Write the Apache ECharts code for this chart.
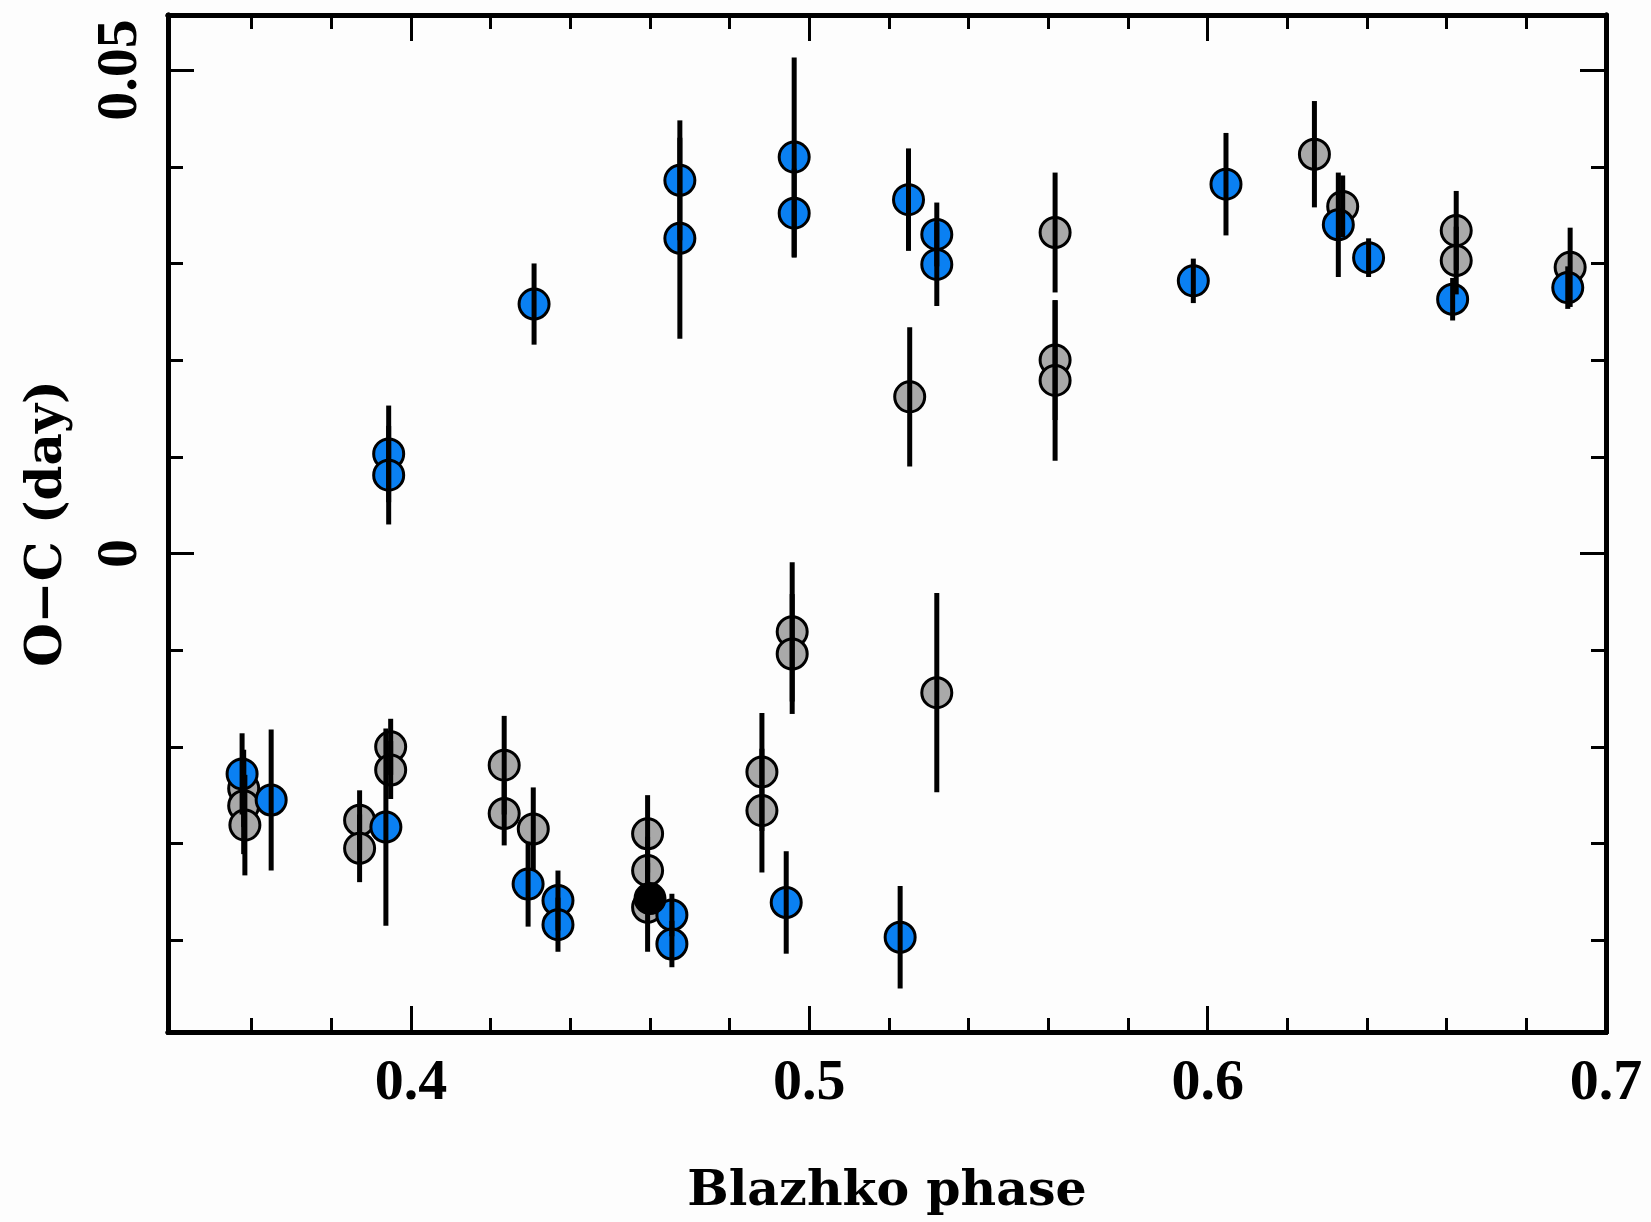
<!DOCTYPE html>
<html>
<head>
<meta charset="UTF-8">
<script src="https://cdn.jsdelivr.net/npm/echarts@6/dist/echarts.min.js"></script>
<style>
  html, body { margin: 0; padding: 0; background: #fdfdfd; }
  #main { width: 1651px; height: 1222px; }
</style>
</head>
<body>
<div id="main"></div>
<script>
// blue points: phase, O-C, error
var blueX = [0.3944, 0.3944, 0.4309, 0.4675, 0.4675, 0.4962, 0.4962, 0.5249, 0.5320, 0.5320,
             0.5964, 0.6046, 0.6328, 0.6404, 0.6615, 0.6904,
             0.3576, 0.3649, 0.3937, 0.4294, 0.4369, 0.4369, 0.4655, 0.4655, 0.4942, 0.5228];
var blueY = [0.0103, 0.0081, 0.0258, 0.0386, 0.0326, 0.0410, 0.0352, 0.0366, 0.0330, 0.0299,
             0.0282, 0.0382, 0.0340, 0.0306, 0.0263, 0.0275,
             -0.0228, -0.0255, -0.0283, -0.0342, -0.0359, -0.0384, -0.0374, -0.0404, -0.0361, -0.0397];
var blueErr = [0.0050, 0.0051, 0.0042, 0.0062, 0.0104, 0.0103, 0.0046, 0.0053, 0.0033, 0.0043,
               0.0023, 0.0053, 0.0054, 0.0020, 0.0022, 0.0022,
               0.0042, 0.0073, 0.0102, 0.0044, 0.0031, 0.0028, 0.0022, 0.0024, 0.0053, 0.0053];

// grey points
var greyX = [0.5617, 0.5617, 0.5617, 0.5252, 0.6268, 0.6339, 0.6624, 0.6624, 0.6910,
             0.3580, 0.3580, 0.3583, 0.3871, 0.3871, 0.3949, 0.3949, 0.4234, 0.4234, 0.4307,
             0.4594, 0.4594, 0.4594, 0.4881, 0.4881, 0.4957, 0.4957, 0.5320];
var greyY = [0.0332, 0.0200, 0.0179, 0.0162, 0.0413, 0.0359, 0.0334, 0.0303, 0.0296,
             -0.0243, -0.0261, -0.0281, -0.0276, -0.0305, -0.0200, -0.0224, -0.0219, -0.0269, -0.0285,
             -0.0290, -0.0328, -0.0366, -0.0226, -0.0266, -0.0081, -0.0104, -0.0144];
var greyErr = [0.0062, 0.0062, 0.0083, 0.0072, 0.0055, 0.0032, 0.0041, 0.0035, 0.0041,
               0.0040, 0.0050, 0.0052, 0.0031, 0.0035, 0.0029, 0.0030, 0.0051, 0.0033, 0.0043,
               0.0040, 0.0035, 0.0046, 0.0061, 0.0064, 0.0072, 0.0062, 0.0103];

// single black point
var blackX = [0.4600];
var blackY = [-0.0357];
var blackErr = [0];

// axis ticks
var xLabels = [0.4, 0.5, 0.6, 0.7];
var xMinor = [0.36, 0.38, 0.42, 0.44, 0.46, 0.48, 0.52, 0.54, 0.56, 0.58, 0.62, 0.64, 0.66, 0.68];
var yLabels = [0, 0.05];
var yMinor = [-0.04, -0.03, -0.02, -0.01, 0.01, 0.02, 0.03, 0.04];

var X_MIN = 0.339, X_MAX = 0.7, Y_MIN = -0.0495, Y_MAX = 0.0557;
var NAME_FONT = 'DejaVu Serif';
var TICK_FONT = 'Liberation Serif';

function pts(xs, ys, es) {
    return xs.map(function (x, i) { return [x, ys[i], es[i]]; });
}

function errBar(params, api) {
    var x = api.value(0), y = api.value(1), e = api.value(2);
    if (!e) return;
    var p1 = api.coord([x, y - e]);
    var p2 = api.coord([x, y + e]);
    return {
        type: 'line',
        shape: { x1: p1[0], y1: p1[1], x2: p2[0], y2: p2[1] },
        style: { stroke: '#000', lineWidth: 5 }
    };
}

// one axis per side for short ticks, another for long ticks
function xAx(pos, ticks, len, labels, withName) {
    return {
        type: 'value', position: pos, min: X_MIN, max: X_MAX,
        name: withName ? 'Blazhko phase' : '',
        nameLocation: 'middle', nameGap: 136,
        nameTextStyle: { fontFamily: NAME_FONT, fontWeight: 'bold', fontSize: 49, color: '#000' },
        axisLine: { show: true, onZero: false, lineStyle: { color: '#000', width: 5 } },
        axisTick: { show: true, inside: true, length: len, customValues: ticks,
                    lineStyle: { color: '#000', width: 3 } },
        axisLabel: { show: !!labels, customValues: labels || [], margin: 23,
                     fontFamily: TICK_FONT, fontWeight: 'bold', fontSize: 58, color: '#000' },
        splitLine: { show: false }
    };
}
function yAx(pos, ticks, len, labels, withName) {
    return {
        type: 'value', position: pos, min: Y_MIN, max: Y_MAX,
        name: withName ? 'O\u2212C (day)' : '',
        nameLocation: 'middle', nameGap: 95, nameRotate: 90,
        nameTextStyle: { fontFamily: NAME_FONT, fontWeight: 'bold', fontSize: 50, color: '#000' },
        axisLine: { show: true, onZero: false, lineStyle: { color: '#000', width: 5 } },
        axisTick: { show: true, inside: true, length: len, customValues: ticks,
                    lineStyle: { color: '#000', width: 3 } },
        axisLabel: { show: !!labels, customValues: labels || [], margin: 18, rotate: 90,
                     fontFamily: TICK_FONT, fontWeight: 'bold', fontSize: 58, color: '#000',
                     formatter: function (v) { return v === 0 ? '0' : String(+v.toFixed(2)); } },
        splitLine: { show: false }
    };
}

var chart = echarts.init(document.getElementById('main'));
chart.setOption({
    backgroundColor: '#fdfdfd',
    animation: false,
    grid: { left: 168, right: 45, top: 15, bottom: 190, containLabel: false },
    xAxis: [
        xAx('bottom', xMinor, 14, xLabels, true),
        xAx('bottom', xLabels, 26, null, false),
        xAx('top', xMinor, 14, null, false),
        xAx('top', xLabels, 26, null, false)
    ],
    yAxis: [
        yAx('left', yMinor, 15, yLabels, true),
        yAx('left', yLabels, 26, null, false),
        yAx('right', yMinor, 15, null, false),
        yAx('right', yLabels, 26, null, false)
    ],
    series: [
        { type: 'scatter', data: pts(greyX, greyY, greyErr), symbolSize: 30, z: 2,
          itemStyle: { color: '#a9a9a9', borderColor: '#000', borderWidth: 3, opacity: 1 } },
        { type: 'scatter', data: pts(blueX, blueY, blueErr), symbolSize: 30, z: 3,
          itemStyle: { color: '#0a80f2', borderColor: '#000', borderWidth: 3, opacity: 1 } },
        { type: 'scatter', data: pts(blackX, blackY, blackErr), symbolSize: 30, z: 4,
          itemStyle: { color: '#000', borderColor: '#000', borderWidth: 3, opacity: 1 } },
        { type: 'custom', data: pts(greyX, greyY, greyErr), renderItem: errBar, z: 5 },
        { type: 'custom', data: pts(blueX, blueY, blueErr), renderItem: errBar, z: 5 }
    ]
});
</script>
</body>
</html>
